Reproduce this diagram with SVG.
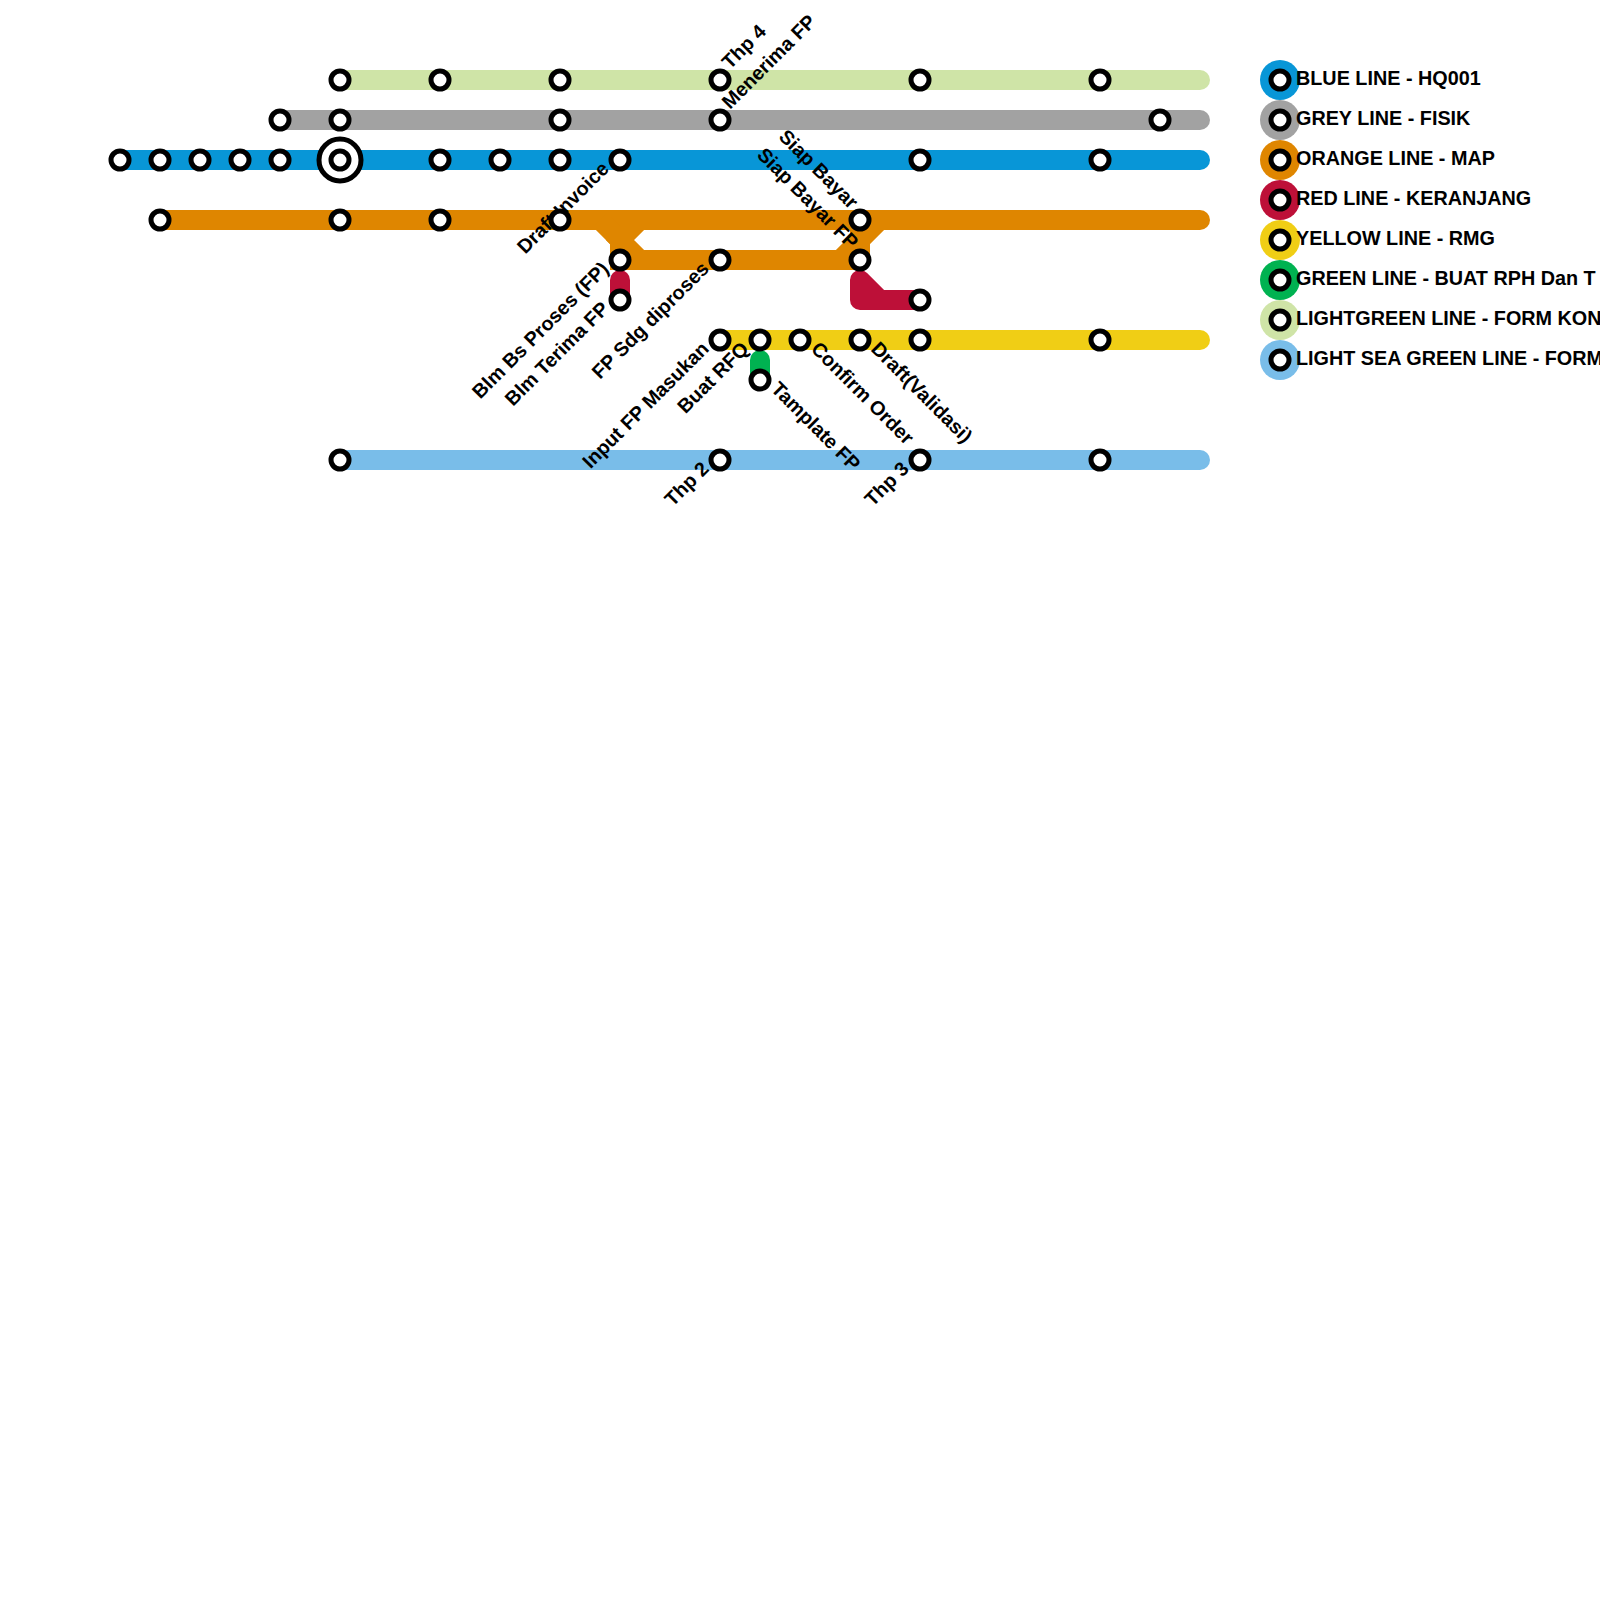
<svg xmlns="http://www.w3.org/2000/svg" width="1600" height="1600" viewBox="0 0 1600 1600">
<style>
.ln{fill:none;stroke-width:20;stroke-linecap:round;stroke-linejoin:round}
.lm{fill:none;stroke-width:20;stroke-linecap:butt;stroke-linejoin:miter}
.st{fill:#fff;stroke:#000;stroke-width:5}
.t{font-family:"Liberation Sans",Arial,Helvetica,sans-serif;font-weight:bold;font-size:19.8px;fill:#000}
.e{text-anchor:end}
</style>
<rect width="1600" height="1600" fill="#fff"/>
<g id="connectors">
<path class="ln" stroke="#cfe4a7" d="M340,80 L1200,80"/>
<path class="ln" stroke="#a2a2a2" d="M280,120 L1200,120"/>
<path class="ln" stroke="#0896d7" d="M120,160 L1200,160"/>
<path class="ln" stroke="#df8600" d="M160,220 L1200,220"/>
<path class="lm" stroke="#df8600" d="M600,220 L620,240 L620,260 L860,260"/>
<path class="lm" stroke="#df8600" d="M640,220 L620,240 L640,260"/>
<path class="lm" stroke="#df8600" d="M840,260 L860,240 L860,220"/>
<path class="lm" stroke="#df8600" d="M880,220 L860,240 L860,260"/>
<path class="ln" stroke="#bd1038" d="M620,280 L620,300"/>
<path class="ln" stroke="#bd1038" d="M860,280 L860,300 L920,300 M860,280 L880,300"/>
<path class="ln" stroke="#f0ce15" d="M720,340 L1200,340"/>
<path class="ln" stroke="#00b251" d="M760,360 L760,380"/>
<path class="ln" stroke="#79bde9" d="M340,460 L1200,460"/>
</g>
<g id="labels">
<text class="t" transform="translate(730,70) rotate(-45)">Thp 4</text>
<text class="t" transform="translate(730,110) rotate(-45)">Menerima FP</text>
<text class="t e" transform="translate(610,170) rotate(-45)">Draft Invoice</text>
<text class="t e" transform="translate(610,270) rotate(-45)">Blm Bs Proses (FP)</text>
<text class="t e" transform="translate(610,310) rotate(-45)">Blm Terima FP</text>
<text class="t e" transform="translate(710,270) rotate(-45)">FP Sdg diproses</text>
<text class="t e" transform="translate(710,350) rotate(-45)">Input FP Masukan</text>
<text class="t e" transform="translate(750,350) rotate(-45)">Buat RFQ</text>
<text class="t e" transform="translate(710,470) rotate(-45)">Thp 2</text>
<text class="t e" transform="translate(910,470) rotate(-45)">Thp 3</text>
<text class="t" transform="translate(810,350) rotate(45)">Confirm Order</text>
<text class="t" transform="translate(870,350) rotate(45)">Draft(Validasi)</text>
<text class="t" transform="translate(770,390) rotate(45)">Tamplate FP</text>
<text class="t e" transform="translate(850,210) rotate(45)">Siap Bayar</text>
<text class="t e" transform="translate(850,250) rotate(45)">Siap Bayar FP</text>
</g>
<g id="stations">
<g id="lg1"><circle class="st" cx="340" cy="80" r="9"/><circle class="st" cx="440" cy="80" r="9"/><circle class="st" cx="560" cy="80" r="9"/><circle class="st" cx="720" cy="80" r="9"/><circle class="st" cx="920" cy="80" r="9"/><circle class="st" cx="1100" cy="80" r="9"/></g>
<g id="gr1"><circle class="st" cx="280" cy="120" r="9"/><circle class="st" cx="340" cy="120" r="9"/><circle class="st" cx="560" cy="120" r="9"/><circle class="st" cx="720" cy="120" r="9"/><circle class="st" cx="1160" cy="120" r="9"/></g>
<g id="bl1"><circle class="st" cx="120" cy="160" r="9"/><circle class="st" cx="160" cy="160" r="9"/><circle class="st" cx="200" cy="160" r="9"/><circle class="st" cx="240" cy="160" r="9"/><circle class="st" cx="280" cy="160" r="9"/><circle class="st" cx="340" cy="160" r="21"/><circle class="st" cx="340" cy="160" r="9"/><circle class="st" cx="440" cy="160" r="9"/><circle class="st" cx="500" cy="160" r="9"/><circle class="st" cx="560" cy="160" r="9"/><circle class="st" cx="620" cy="160" r="9"/><circle class="st" cx="920" cy="160" r="9"/><circle class="st" cx="1100" cy="160" r="9"/></g>
<g id="or1"><circle class="st" cx="160" cy="220" r="9"/><circle class="st" cx="340" cy="220" r="9"/><circle class="st" cx="440" cy="220" r="9"/><circle class="st" cx="560" cy="220" r="9"/><circle class="st" cx="860" cy="220" r="9"/><circle class="st" cx="620" cy="260" r="9"/><circle class="st" cx="720" cy="260" r="9"/><circle class="st" cx="860" cy="260" r="9"/></g>
<g id="rd1"><circle class="st" cx="620" cy="300" r="9"/><circle class="st" cx="920" cy="300" r="9"/></g>
<g id="ye1"><circle class="st" cx="720" cy="340" r="9"/><circle class="st" cx="760" cy="340" r="9"/><circle class="st" cx="800" cy="340" r="9"/><circle class="st" cx="860" cy="340" r="9"/><circle class="st" cx="920" cy="340" r="9"/><circle class="st" cx="1100" cy="340" r="9"/></g>
<g id="gn1"><circle class="st" cx="760" cy="380" r="9"/></g>
<g id="lb1"><circle class="st" cx="340" cy="460" r="9"/><circle class="st" cx="720" cy="460" r="9"/><circle class="st" cx="920" cy="460" r="9"/><circle class="st" cx="1100" cy="460" r="9"/></g>
</g>
<g id="legend">
<g id="leg-blue"><circle cx="1280" cy="80" r="20" fill="#0896d7"/><circle class="st" cx="1280" cy="80" r="9"/><text class="t" x="1296" y="85">BLUE LINE - HQ001</text></g>
<g id="leg-grey"><circle cx="1280" cy="120" r="20" fill="#a2a2a2"/><circle class="st" cx="1280" cy="120" r="9"/><text class="t" x="1296" y="125">GREY LINE - FISIK</text></g>
<g id="leg-orange"><circle cx="1280" cy="160" r="20" fill="#df8600"/><circle class="st" cx="1280" cy="160" r="9"/><text class="t" x="1296" y="165">ORANGE LINE - MAP</text></g>
<g id="leg-red"><circle cx="1280" cy="200" r="20" fill="#bd1038"/><circle class="st" cx="1280" cy="200" r="9"/><text class="t" x="1296" y="205">RED LINE - KERANJANG</text></g>
<g id="leg-yellow"><circle cx="1280" cy="240" r="20" fill="#f0ce15"/><circle class="st" cx="1280" cy="240" r="9"/><text class="t" x="1296" y="245">YELLOW LINE - RMG</text></g>
<g id="leg-green"><circle cx="1280" cy="280" r="20" fill="#00b251"/><circle class="st" cx="1280" cy="280" r="9"/><text class="t" x="1296" y="285">GREEN LINE - BUAT RPH Dan T</text></g>
<g id="leg-lightgreen"><circle cx="1280" cy="320" r="20" fill="#cfe4a7"/><circle class="st" cx="1280" cy="320" r="9"/><text class="t" x="1296" y="325">LIGHTGREEN LINE - FORM KON</text></g>
<g id="leg-lightblue"><circle cx="1280" cy="360" r="20" fill="#79bde9"/><circle class="st" cx="1280" cy="360" r="9"/><text class="t" x="1296" y="365">LIGHT SEA GREEN LINE - FORM</text></g>
</g>
</svg>
